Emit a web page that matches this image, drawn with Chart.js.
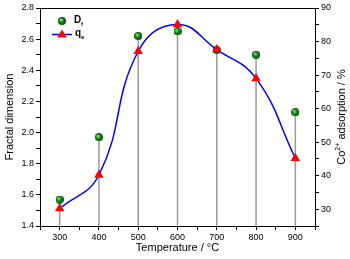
<!DOCTYPE html>
<html>
<head>
<meta charset="utf-8">
<script src="https://cdn.jsdelivr.net/npm/chart.js@4.4.1/dist/chart.umd.min.js"></script>
<style>
  html, body { margin: 0; padding: 0; background: #fff; }
  #wrap { width: 350px; height: 259px; }
</style>
</head>
<body>
<div id="wrap"><canvas id="fractalChart"></canvas></div>
<script>
// temperatures (°C) and the two measured series
const temperatures = [300, 400, 500, 600, 700, 800, 900];
const fractalDim = [1.57, 1.97, 2.62, 2.65, 2.53, 2.50, 2.13];
const coAdsorption = [30.2, 40.2, 77.1, 85.1, 77.6, 69.0, 45.2];

const FONT = "'Liberation Sans', Arial, sans-serif";

// shaded green ball used as the point style for D_f
function makeBall(r) {
  const c = document.createElement('canvas');
  c.width = c.height = r * 2;
  const g = c.getContext('2d');
  const grad = g.createRadialGradient(r * 0.7, r * 0.7, 0.5, r, r, r);
  grad.addColorStop(0, '#8fe08f');
  grad.addColorStop(0.45, '#128c12');
  grad.addColorStop(1, '#044a04');
  g.fillStyle = grad;
  g.beginPath();
  g.arc(r, r, r, 0, Math.PI * 2);
  g.fill();
  return c;
}
const ball = makeBall(4);

// grey drop lines from the upper marker down to the x axis
const dropLines = {
  id: 'dropLines',
  beforeDatasetsDraw(chart) {
    const { ctx, chartArea, scales } = chart;
    ctx.save();
    ctx.strokeStyle = '#9a9a9a';
    ctx.lineWidth = 1.5;
    temperatures.forEach((t, i) => {
      const x = scales.x.getPixelForValue(t);
      const top = Math.min(scales.y.getPixelForValue(fractalDim[i]), scales.y2.getPixelForValue(coAdsorption[i]));
      ctx.beginPath();
      ctx.moveTo(x, top);
      ctx.lineTo(x, chartArea.bottom);
      ctx.stroke();
    });
    ctx.restore();
  }
};

// frame top line, axis titles and the inline legend
const decorations = {
  id: 'decorations',
  afterDraw(chart) {
    const { ctx, chartArea } = chart;
    ctx.save();
    ctx.strokeStyle = '#000';
    ctx.lineWidth = 1;
    ctx.beginPath();
    ctx.moveTo(chartArea.left, chartArea.top + 0.5);
    ctx.lineTo(chartArea.right, chartArea.top + 0.5);
    ctx.stroke();

    const midY = (chartArea.top + chartArea.bottom) / 2;
    ctx.fillStyle = '#000';
    ctx.textBaseline = 'middle';

    // x title
    ctx.font = '11px ' + FONT;
    ctx.textAlign = 'center';
    ctx.fillText('Temperature / °C', (chartArea.left + chartArea.right) / 2, 248);

    // left title
    ctx.save();
    ctx.translate(10, midY);
    ctx.rotate(-Math.PI / 2);
    ctx.fillText('Fractal dimension', 0, 0);
    ctx.restore();

    // right title with superscript
    ctx.save();
    ctx.translate(342, midY);
    ctx.rotate(-Math.PI / 2);
    ctx.textAlign = 'left';
    const p1 = 'Co', p2 = '2+', p3 = ' adsorption / %';
    ctx.font = '11px ' + FONT;
    const w1 = ctx.measureText(p1).width, w3 = ctx.measureText(p3).width;
    ctx.font = '7px ' + FONT;
    const w2 = ctx.measureText(p2).width;
    let x0 = -(w1 + w2 + w3) / 2;
    ctx.font = '11px ' + FONT;
    ctx.fillText(p1, x0, 0);
    ctx.font = '7px ' + FONT;
    ctx.fillText(p2, x0 + w1, -4);
    ctx.font = '11px ' + FONT;
    ctx.fillText(p3, x0 + w1 + w2, 0);
    ctx.restore();

    // legend
    ctx.drawImage(ball, 58, 17);
    ctx.strokeStyle = '#0000ff';
    ctx.lineWidth = 1.5;
    ctx.beginPath();
    ctx.moveTo(52, 34.5);
    ctx.lineTo(72, 34.5);
    ctx.stroke();
    ctx.fillStyle = '#ff0000';
    ctx.beginPath();
    ctx.moveTo(62, 29.5);
    ctx.lineTo(67, 37.5);
    ctx.lineTo(57, 37.5);
    ctx.closePath();
    ctx.fill();
    ctx.fillStyle = '#000';
    ctx.textAlign = 'left';
    ctx.font = 'bold 10px ' + FONT;
    ctx.fillText('D', 74, 20);
    ctx.fillText('q', 75, 33);
    ctx.font = 'bold 6px ' + FONT;
    ctx.fillText('f', 81, 24);
    ctx.fillText('e', 81, 37);
    ctx.restore();
  }
};

const tickFont = { family: FONT, size: 9 };

new Chart(document.getElementById('fractalChart').getContext('2d'), {
  type: 'line',
  data: {
    datasets: [
      {
        label: 'qe',
        data: temperatures.map((t, i) => ({ x: t, y: coAdsorption[i] })),
        yAxisID: 'y2',
        borderColor: '#0000ff',
        borderWidth: 1.5,
        tension: 0.45,
        pointStyle: 'triangle',
        pointRadius: 5.5,
        pointBackgroundColor: '#ff0000',
        pointBorderColor: '#ff0000',
        pointBorderWidth: 0,
        order: 0
      },
      {
        label: 'Df',
        data: temperatures.map((t, i) => ({ x: t, y: fractalDim[i] })),
        yAxisID: 'y',
        showLine: false,
        pointStyle: ball,
        order: 1
      }
    ]
  },
  options: {
    responsive: true,
    maintainAspectRatio: false,
    animation: false,
    layout: { padding: { top: 8, left: 0, right: 0, bottom: 0 } },
    plugins: {
      legend: { display: false },
      tooltip: { enabled: false }
    },
    scales: {
      x: {
        type: 'linear',
        min: 250,
        max: 950,
        afterFit: s => { s.height = 33; },
        ticks: {
          stepSize: 50,
          autoSkip: false,
          maxRotation: 0,
          padding: 2,
          color: '#000',
          font: tickFont,
          callback: v => (v % 100 === 0 ? v : '')
        },
        grid: { drawOnChartArea: false, tickLength: 4, color: '#000' },
        border: { color: '#000', width: 1 }
      },
      y: {
        position: 'left',
        min: 1.4,
        max: 2.8,
        afterFit: s => { s.width = 40; },
        ticks: {
          stepSize: 0.1,
          autoSkip: false,
          padding: 2,
          color: '#000',
          font: tickFont,
          callback: v => (Math.round(v * 10) % 2 === 0 ? v.toFixed(1) : '')
        },
        grid: { drawOnChartArea: false, tickLength: 4, color: '#000' },
        border: { color: '#000', width: 1 }
      },
      y2: {
        position: 'right',
        min: 25,
        max: 90,
        afterFit: s => { s.width = 35; },
        ticks: {
          stepSize: 5,
          autoSkip: false,
          padding: 2,
          color: '#000',
          font: tickFont,
          callback: v => (v % 10 === 0 ? v : '')
        },
        grid: { drawOnChartArea: false, tickLength: 4, color: '#000' },
        border: { color: '#000', width: 1 }
      }
    }
  },
  plugins: [dropLines, decorations]
});
</script>
</body>
</html>
